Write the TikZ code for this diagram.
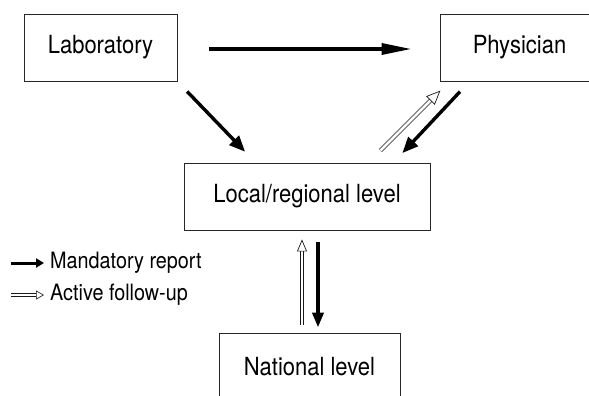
\documentclass[tikz,border=0pt]{standalone}
\usepackage{fontspec}
\setmainfont{TeX Gyre Heros}[FakeStretch=0.88]
\usetikzlibrary{arrows.meta,calc}
\begin{document}
\begin{tikzpicture}[x=1pt,y=-1pt,
  box/.style={draw=black!85,line width=0.9pt,inner sep=0pt,font=\fontsize{25}{30}\selectfont},
  mand/.style={draw=black,line width=3.4pt,-{Triangle[length=16pt,width=13pt]}},
  foll/.style={draw=black!90,line width=0.7pt,double=white,double distance=2.8pt,-{Triangle[open,length=14pt,width=12pt]}},
  legtext/.style={anchor=west,inner sep=0pt,font=\fontsize{22.5}{26}\selectfont}]
\useasboundingbox (0,0) rectangle (589,396);
\node[box,minimum width=153pt,minimum height=67pt] (lab) at (100.5,47.5) {Laboratory};
\node[box,minimum width=159pt,minimum height=67pt] (phys) at (519.5,47.5) {Physician};
\node[box,minimum width=246pt,minimum height=67pt] (loc) at (307,196.5) {Local/regional level};
\node[box,minimum width=181pt,minimum height=68pt] (nat) at (309.5,367) {National level};
% top horizontal
\draw[mand,-{Triangle[length=30pt,width=11pt]},shorten <=32pt,shorten >=28pt]
  ([yshift=-1.5pt]lab.east) -- ([yshift=-1.5pt]phys.west);
% diagonals
\draw[mand,shorten <=14pt,shorten >=15pt] (lab.south east) -- ($(loc.north west)+(72,0)$);
\draw[foll,shorten <=17pt,shorten >=13pt] ($(loc.north east)+(-62,0)$) -- ($(phys.south west)+(10,0)$);
\draw[mand,shorten <=14pt,shorten >=13pt] ($(phys.south west)+(30,0)$) -- ($(loc.north east)+(-37,0)$);
% verticals
\draw[foll,-{Triangle[open,length=12pt,width=10pt]},shorten <=8pt,shorten >=9pt] ([xshift=-7.5pt]nat.north) -- ([xshift=-5pt]loc.south);
\draw[mand,line width=3.8pt,-{Triangle[length=15pt,width=11pt]},shorten <=12pt,shorten >=5pt] ([xshift=11pt]loc.south) -- ([xshift=8.5pt]nat.north);
% legend
\node[legtext] (lm) at (50,263) {Mandatory report};
\node[legtext] (la) at (50,295) {Active follow-up};
\coordinate (lms) at (11,263);
\coordinate (las) at (11,295);
\draw[mand,line width=3pt,-{Triangle[length=8pt,width=9pt]},shorten >=6pt] (lms) -- (lm.west);
\draw[foll,line width=0.6pt,double distance=2.2pt,-{Triangle[open,length=8pt,width=9pt]},shorten >=6pt] (las) -- (la.west);
\end{tikzpicture}
\end{document}
